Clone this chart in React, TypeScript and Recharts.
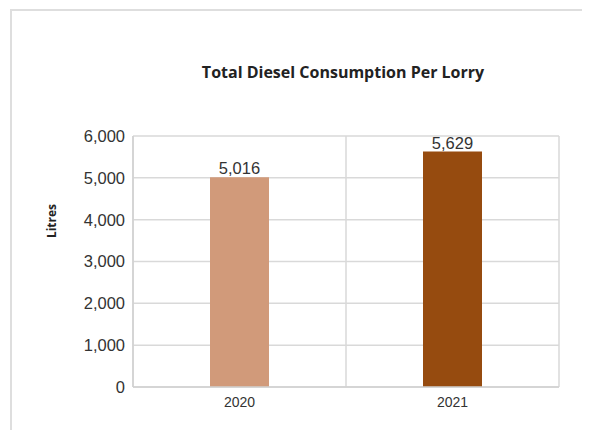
import React from "react";
import { BarChart, Bar, XAxis, YAxis, CartesianGrid, Cell, LabelList } from "recharts";

const years = ["2020", "2021"];
const litres = [5016, 5629];
const barColors = ["#D19A7A", "#964B0F"];
const yTicks = [0, 1000, 2000, 3000, 4000, 5000, 6000];
const title = "Total Diesel Consumption Per Lorry";
const yLabel = "Litres";

const data = years.map((y, i) => ({ year: y, value: litres[i] }));

const fmt = (v: number) => v.toLocaleString("en-US");

export default function App() {
  return (
    <div style={{ position: "relative", width: 582, height: 422, overflow: "hidden", background: "#fff" }}>
      <div
        style={{
          position: "absolute",
          left: 2,
          top: 1,
          width: 800,
          height: 800,
          borderTop: "2px solid #dedede",
          borderLeft: "2px solid #dedede",
        }}
      />
      <div
        style={{
          position: "absolute",
          left: 0,
          width: 670,
          top: 53,
          textAlign: "center",
          fontFamily: "'Open Sans', sans-serif",
          fontWeight: 700,
          fontSize: 16,
          color: "#222",
          lineHeight: "22px",
          whiteSpace: "nowrap",
        }}
      >
        {title}
      </div>
      <div
        style={{
          position: "absolute",
          left: 44,
          top: 213,
          transform: "translate(-50%, -50%) rotate(-90deg)",
          fontFamily: "'Open Sans', sans-serif",
          fontWeight: 700,
          fontSize: 12,
          color: "#222",
          whiteSpace: "nowrap",
          lineHeight: "14px",
        }}
      >
        {yLabel}
      </div>
      <div style={{ position: "absolute", left: 0, top: 0 }}>
        <BarChart
          width={582}
          height={422}
          data={data}
          margin={{ top: 128, right: 31, left: 0, bottom: 13 }}
          barCategoryGap="0%"
        >
          <CartesianGrid
            stroke="#d9d9d9"
            strokeWidth={1.5}
            verticalCoordinatesGenerator={({ offset }: any) => [
              offset.left,
              offset.left + offset.width / 2,
              offset.left + offset.width,
            ]}
          />
          <XAxis
            dataKey="year"
            axisLine={{ stroke: "#d0d0d0", strokeWidth: 1.5 }}
            tickLine={false}
            tickMargin={4}
            height={30}
            tick={{ fontFamily: "'Liberation Sans', Arial, sans-serif", fontSize: 14, fill: "#333" }}
          />
          <YAxis
            width={125}
            domain={[0, 6000]}
            ticks={yTicks}
            tickFormatter={fmt}
            axisLine={{ stroke: "#d0d0d0", strokeWidth: 1.5 }}
            tickLine={false}
            tickMargin={2}
            tick={{ fontFamily: "'Liberation Sans', Arial, sans-serif", fontSize: 16.5, fill: "#333" }}
          />
          <Bar dataKey="value" barSize={59} isAnimationActive={false}>
            {data.map((d, i) => (
              <Cell key={d.year} fill={barColors[i]} />
            ))}
            <LabelList
              dataKey="value"
              position="top"
              offset={3}
              formatter={(v: any) => fmt(Number(v))}
              style={{ fontFamily: "'Liberation Sans', Arial, sans-serif", fontSize: 16.5, fill: "#333" }}
            />
          </Bar>
        </BarChart>
      </div>
    </div>
  );
}
